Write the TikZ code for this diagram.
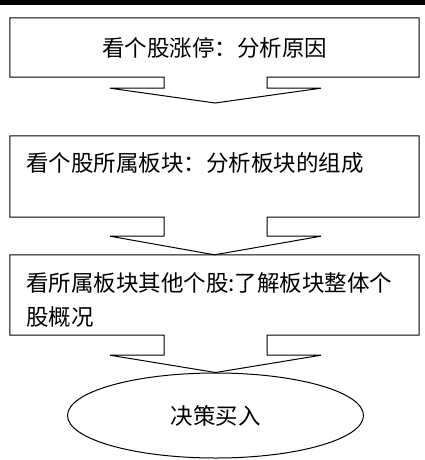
\documentclass[tikz,border=0pt]{standalone}
\usepackage{fontspec}
\newfontfamily\cjk{Noto Sans CJK SC}
\usetikzlibrary{calc,shapes.geometric}
\tikzset{
	box/.style={minimum width=409, minimum height=#1, inner sep=0pt},
	txt/.style={font=\cjk\fontsize{22.5}{34}\selectfont, inner sep=0pt, align=left},
	outline/.style={line width=1pt, line join=miter}
}
\begin{document}
\begin{tikzpicture}[x=1pt, y=-1pt]
		\useasboundingbox (0,0) rectangle (425,460);
		%bande noire du haut
		\fill (0,0) rectangle (425,5);
		%Cadres du diagramme
		\node[box=59, txt] (B1) at (214.5,47.5) {看个股涨停：分析原因};
		\node[box=81] (B2) at (214.5,176.5) {};
		\node[box=80] (B3) at (214.5,295) {};
		\node[txt, anchor=west] (T2) at (26,162.5) {看个股所属板块：分析板块的组成};
		\node[txt, anchor=north west] (T3) at (26,272) {看所属板块其他个股:了解板块整体个\\股概况};
		\node[ellipse, draw, outline, minimum width=296, minimum height=85, txt] (E) at (215.5,415.5) {决策买入};
		\coordinate (A1) at (215,103);
		%Contours avec les flèches
		\draw[outline] (B1.south west) -- (B1.north west) -- (B1.north east) -- (B1.south east)
			-- ($(B1.south)+(52.5,0)$) -- ++(0,11) -- ++(54,0) -- (A1)
			-- ($(B1.south)+(-104.5,11)$) -- ++(54,0) -- ++(0,-11) -- cycle;
		\draw[outline] (B2.south west) -- (B2.north west) -- (B2.north east) -- (B2.south east)
			-- ($(B2.south)+(52.5,0)$) -- ++(0,19) -- ++(54,0) -- (B3.north)
			-- ($(B2.south)+(-104.5,19)$) -- ++(54,0) -- ++(0,-19) -- cycle;
		\draw[outline] (B3.south west) -- (B3.north west) -- (B3.north east) -- (B3.south east)
			-- ($(B3.south)+(52.5,0)$) -- ++(0,20) -- ++(54,0) -- (E.north)
			-- ($(B3.south)+(-104.5,20)$) -- ++(54,0) -- ++(0,-20) -- cycle;
	\end{tikzpicture}
\end{document}
